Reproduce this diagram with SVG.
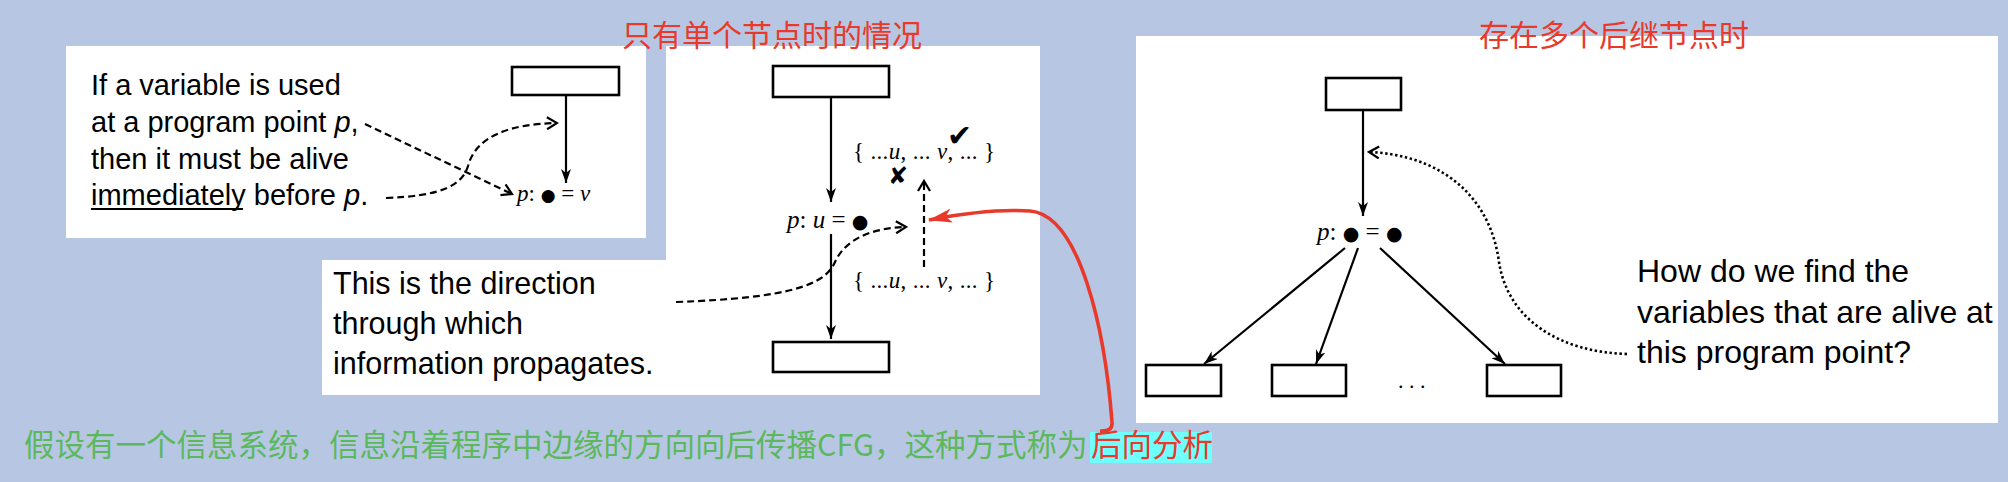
<svg xmlns="http://www.w3.org/2000/svg" width="2008" height="482" viewBox="0 0 2008 482">
<style>
.panel{fill:#ffffff}
.box{fill:#ffffff;stroke:#000;stroke-width:2.6}
.ln{fill:none;stroke:#000;stroke-width:2.2}
.dash{fill:none;stroke:#000;stroke-width:2.2;stroke-dasharray:7 4}
.dot{fill:none;stroke:#000;stroke-width:2.6;stroke-dasharray:2.4 2.6}
.red{fill:none;stroke:#e8392b;stroke-width:3.6}
.txt{font-family:"Liberation Sans",Arial,sans-serif;fill:#000}
.math{font-family:"Liberation Serif","DejaVu Serif",serif;fill:#000}
.big{font-family:"DejaVu Sans",sans-serif}
.cjk{font-family:"Noto Sans CJK SC",sans-serif}
.title{font-family:"Noto Sans CJK SC",sans-serif;font-size:30px;fill:#e8392b}
</style>
<defs>
<marker id="arr" viewBox="0 0 14 10" markerWidth="14" markerHeight="10" refX="14" refY="5" orient="auto" markerUnits="userSpaceOnUse">
<path d="M0,0 L14,5 L0,10 L4,5 z" fill="#000"/>
</marker>
<marker id="chev" viewBox="-1 -1 13 14" markerWidth="13" markerHeight="14" refX="10" refY="6" orient="auto" markerUnits="userSpaceOnUse">
<path d="M0,0 L10,6 L0,12" fill="none" stroke="#000" stroke-width="2.2"/>
</marker>
<marker id="redarr" viewBox="0 0 24 14" markerWidth="24" markerHeight="14" refX="23" refY="7" orient="auto" markerUnits="userSpaceOnUse">
<path d="M0,0 L24,7 L0,14 L6,7 z" fill="#e8392b"/>
</marker>
</defs>
<rect x="0" y="0" width="2008" height="482" fill="#b7c7e3"/>

<g id="panel-single-use">
<rect class="panel" x="66" y="46" width="580" height="192"/>
<text class="txt" font-size="29" x="91" y="95">If a variable is used</text>
<text class="txt" font-size="29" x="91" y="132">at a program point <tspan font-style="italic">p</tspan>,</text>
<text class="txt" font-size="29" x="91" y="169">then it must be alive</text>
<text class="txt" font-size="29" x="91" y="205">immediately before <tspan font-style="italic">p</tspan>.</text>
<line x1="91" y1="209" x2="243" y2="209" stroke="#000" stroke-width="1.8"/>
</g>

<g id="panel-single-successor">
<rect class="panel" x="666" y="46" width="374" height="349"/>
<rect class="panel" x="322" y="260" width="350" height="135"/>
</g>

<g id="panel-multi-successor">
<rect class="panel" x="1136" y="36" width="862" height="387"/>
</g>

<g id="title-single">
<text class="title" x="622" y="46">只有单个节点时的情况</text>
</g>
<g id="title-multi">
<text class="title" x="1479" y="46">存在多个后继节点时</text>
</g>

<g id="p1-box"><rect class="box" x="512" y="67" width="107" height="28"/></g>
<g id="p1-stmt"><text class="math" font-size="23" x="517" y="201"><tspan font-style="italic">p</tspan>: <tspan class="big" font-size="17">●</tspan> = <tspan font-style="italic">v</tspan></text></g>

<g id="p2-top-box"><rect class="box" x="773" y="66" width="116" height="31"/></g>
<g id="p2-stmt"><text class="math" font-size="25" x="787" y="228"><tspan font-style="italic">p</tspan>: <tspan font-style="italic">u</tspan> = <tspan class="big" font-size="19">●</tspan></text></g>
<g id="p2-bottom-box"><rect class="box" x="773" y="342" width="116" height="30"/></g>
<g id="p2-set-in">
<text class="math" font-size="23" x="853" y="159" textLength="142" lengthAdjust="spacing">{ ...<tspan font-style="italic">u</tspan>, ... <tspan font-style="italic">v</tspan>, ... }</text>
<text font-family="DejaVu Sans,sans-serif" font-size="30" x="947" y="146" fill="#000">✔</text>
<text font-family="DejaVu Sans,sans-serif" font-size="24" x="888" y="184" fill="#000">✘</text>
</g>
<g id="p2-set-out">
<text class="math" font-size="23" x="853" y="288" textLength="142" lengthAdjust="spacing">{ ...<tspan font-style="italic">u</tspan>, ... <tspan font-style="italic">v</tspan>, ... }</text>
</g>
<g id="p2-note">
<text class="txt" font-size="30.5" x="333" y="294">This is the direction</text>
<text class="txt" font-size="30.5" x="333" y="334">through which</text>
<text class="txt" font-size="30.5" x="333" y="374">information propagates.</text>
</g>

<g id="p3-top-box"><rect class="box" x="1326" y="78" width="75" height="32"/></g>
<g id="p3-stmt"><text class="math" font-size="25" x="1317" y="240"><tspan font-style="italic">p</tspan>: <tspan class="big" font-size="19">●</tspan> = <tspan class="big" font-size="19">●</tspan></text></g>
<g id="p3-succ1"><rect class="box" x="1146" y="365" width="75" height="31"/></g>
<g id="p3-succ2"><rect class="box" x="1272" y="365" width="74" height="31"/></g>
<g id="p3-dots"><text class="math" font-size="22" x="1398" y="388">. . .</text></g>
<g id="p3-succ3"><rect class="box" x="1487" y="365" width="74" height="31"/></g>
<g id="p3-note">
<text class="txt" font-size="32" x="1637" y="282">How do we find the</text>
<text class="txt" font-size="32" x="1637" y="323">variables that are alive at</text>
<text class="txt" font-size="32" x="1637" y="363">this program point?</text>
</g>

<g id="caption">
<rect x="1090" y="432" width="122" height="31" fill="#70ffff"/>
<text class="cjk" font-size="30.5" x="24" y="456" fill="#5cb85c">假设有一个信息系统，信息沿着程序中边缘的方向向后传播CFG，这种方式称为<tspan x="1091" fill="#e8392b">后向分析</tspan></text>
</g>

<g id="connectors">
<line class="ln" x1="566" y1="95" x2="566" y2="183" marker-end="url(#arr)"/>
<path class="dash" d="M365,124 L512,194" marker-end="url(#chev)"/>
<path class="dash" d="M386,198 C440,196 462,186 468,166 C476,136 510,124 557,123" marker-end="url(#chev)"/>

<line class="ln" x1="831" y1="97" x2="831" y2="202" marker-end="url(#arr)"/>
<line class="ln" x1="831" y1="234" x2="831" y2="339" marker-end="url(#arr)"/>
<path class="dash" d="M924,267 L924,181" stroke-dasharray="9 5" marker-end="url(#chev)"/>
<path class="dash" d="M676,302 C790,298 825,285 835,262 C845,240 870,228 906,227" marker-end="url(#chev)"/>

<line class="ln" x1="1363" y1="110" x2="1363" y2="216" marker-end="url(#arr)"/>
<line class="ln" x1="1345" y1="248" x2="1204" y2="364" marker-end="url(#arr)"/>
<line class="ln" x1="1358" y1="248" x2="1316" y2="364" marker-end="url(#arr)"/>
<line class="ln" x1="1380" y1="248" x2="1505" y2="364" marker-end="url(#arr)"/>
<path class="dot" d="M1627,354 C1560,352 1508,320 1499,262 C1490,195 1440,155 1369,152" marker-end="url(#chev)"/>

<path class="red" d="M1100,431 Q1113,432 1112,422 C1105,330 1080,215 1030,211 C1000,209 960,214 929,220" marker-end="url(#redarr)"/>
</g>
</svg>
